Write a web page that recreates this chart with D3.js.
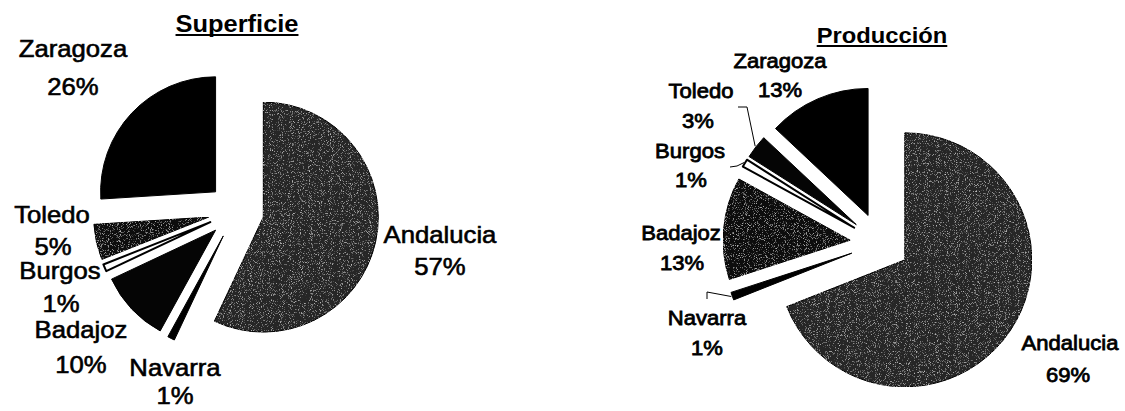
<!DOCTYPE html>
<html>
<head>
<meta charset="utf-8">
<script src="https://cdn.jsdelivr.net/npm/d3@7"></script>
<style>
  body { margin: 0; background: #fff; }
  svg { display: block; }
  text { font-family: "Liberation Sans", Arial, sans-serif; fill: #000; }
</style>
</head>
<body>
<script>
// data
const categories = ["Andalucia", "Navarra", "Badajoz", "Burgos", "Toledo", "Zaragoza"];
const superficie = [57, 1, 10, 1, 5, 26];
const produccion = [69, 1, 13, 1, 3, 13];
const titles = ["Superficie", "Producción"];

const W = 1125, H = 411;
const svg = d3.select("body").append("svg").attr("width", W).attr("height", H);

// speckle texture for the halftone grey slices
const defs = svg.append("defs");
const f = defs.append("filter").attr("id", "speckle")
  .attr("x", 0).attr("y", 0).attr("width", "100%").attr("height", "100%");
f.append("feTurbulence").attr("type", "fractalNoise").attr("baseFrequency", 1.1)
  .attr("numOctaves", 2).attr("seed", 4).attr("result", "noise");
f.append("feColorMatrix").attr("in", "noise").attr("type", "matrix")
  .attr("values", "0 0 0 0 0.6  0 0 0 0 0.6  0 0 0 0 0.6  3 0 0 0 -1.72")
  .attr("result", "spk");
f.append("feComposite").attr("in", "spk").attr("in2", "SourceGraphic")
  .attr("operator", "in").attr("result", "clip");
const fm = f.append("feMerge");
fm.append("feMergeNode").attr("in", "SourceGraphic");
fm.append("feMergeNode").attr("in", "clip");

// layout of the two pies
const charts = [
  {
    values: superficie, title: titles[0], cx: 236, cy: 211, r: 115, explode: 28,
    titleX: 237, titleY: 32, titleSize: 24, titleScale: 1.06,
    labelSize: 24, labelStroke: 0.6, labelScale: 1.07,
    fills: ["#262626", "#000", "#050505", "#fff", "#101010", "#000"],
    speckle: [true, false, false, false, true, false],
    labels: {
      Andalucia: [440, 243, 440, 275],
      Navarra:   [175, 376, 175, 404],
      Badajoz:   [81, 338, 81, 373],
      Burgos:    [60, 279, 61, 312],
      Toledo:    [52, 223, 53, 255],
      Zaragoza:  [73, 57, 73, 95]
    },
    leaders: {}
  },
  {
    values: produccion, title: titles[1], cx: 880, cy: 243, r: 127, explode: 30,
    titleX: 882, titleY: 43, titleSize: 22, titleScale: 1.08,
    labelSize: 21, labelStroke: 0.8, labelScale: 1.05,
    fills: ["#262626", "#000", "#0e0e0e", "#fff", "#050505", "#000"],
    speckle: [true, false, true, false, false, false],
    labels: {
      Andalucia: [1070, 350, 1068, 382],
      Navarra:   [707, 325, 707, 355],
      Badajoz:   [681, 240, 682, 270],
      Burgos:    [690, 158, 691, 187],
      Toledo:    [701, 98, 698, 128],
      Zaragoza:  [780, 68, 780, 97]
    },
    leaders: {
      Toledo:  [[747, 107], [738, 107]],
      Burgos:  [[737, 166], [730, 167]],
      Navarra: [[707, 292], [707, 299]]
    }
  }
];

const pie = d3.pie().sort(null).value(d => d);

charts.forEach(ch => {
  const g = svg.append("g").attr("transform", `translate(${ch.cx},${ch.cy})`);
  const arc = d3.arc().innerRadius(0).outerRadius(ch.r);
  const arcs = pie(ch.values);

  const off = d => {
    const m = (d.startAngle + d.endAngle) / 2;
    return [Math.sin(m) * ch.explode, -Math.cos(m) * ch.explode];
  };

  g.selectAll("path.slice")
    .data(arcs)
    .enter()
    .append("path")
    .attr("class", "slice")
    .attr("d", arc)
    .attr("transform", d => `translate(${off(d)})`)
    .attr("fill", (d, i) => ch.fills[i])
    .attr("filter", (d, i) => ch.speckle[i] ? "url(#speckle)" : null)
    .attr("stroke", "#000")
    .attr("stroke-width", (d, i) => ch.fills[i] === "#fff" ? 2 : 1)
    .attr("stroke-linejoin", "round");

  // leader lines
  arcs.forEach((d, i) => {
    const pts = ch.leaders[categories[i]];
    if (!pts) return;
    const m = (d.startAngle + d.endAngle) / 2;
    const o = off(d);
    const sx = ch.cx + o[0] + Math.sin(m) * (ch.r + 1);
    const sy = ch.cy + o[1] - Math.cos(m) * (ch.r + 1);
    svg.append("path")
      .attr("d", d3.line()([[sx, sy]].concat(pts)))
      .attr("fill", "none")
      .attr("stroke", "#000")
      .attr("stroke-width", 1);
  });

  // labels
  categories.forEach((c, i) => {
    const p = ch.labels[c];
    [[c, p[0], p[1]], [ch.values[i] + "%", p[2], p[3]]].forEach(t => {
      svg.append("text")
        .attr("transform", `translate(${t[1]},${t[2]}) scale(${ch.labelScale},1)`)
        .attr("text-anchor", "middle")
        .attr("font-size", ch.labelSize)
        .attr("stroke", "#000")
        .attr("stroke-width", ch.labelStroke)
        .text(t[0]);
    });
  });

  // title with underline
  const tt = svg.append("text")
    .attr("transform", `translate(${ch.titleX},${ch.titleY}) scale(${ch.titleScale},1)`)
    .attr("text-anchor", "middle")
    .attr("font-size", ch.titleSize)
    .attr("font-weight", "bold")
    .text(ch.title);
  const tw = tt.node().getComputedTextLength() * ch.titleScale;
  svg.append("line")
    .attr("x1", ch.titleX - tw / 2).attr("x2", ch.titleX + tw / 2)
    .attr("y1", ch.titleY + 3).attr("y2", ch.titleY + 3)
    .attr("stroke", "#000").attr("stroke-width", 2);
});
</script>
</body>
</html>
